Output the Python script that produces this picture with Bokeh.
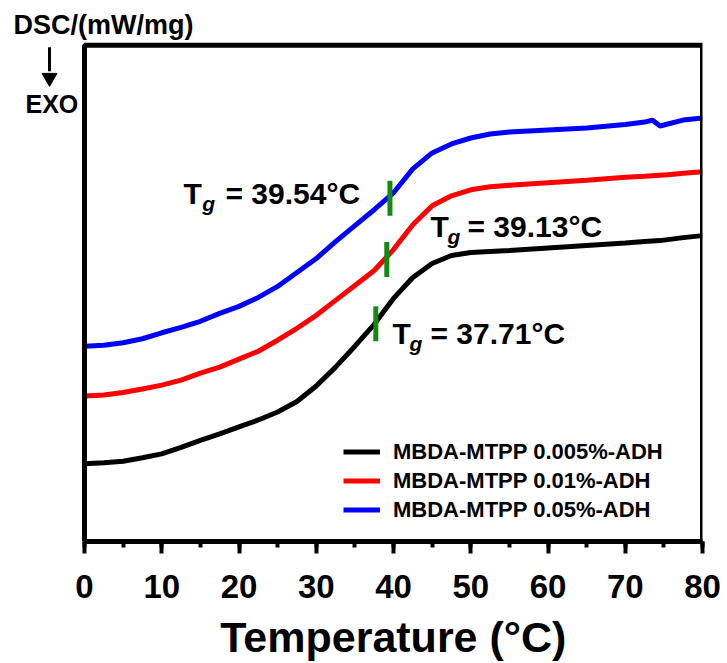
from bokeh.plotting import figure
from bokeh.models import (Range1d, SingleIntervalTicker, Legend, LegendItem, Label,
                          BoxAnnotation)
from bokeh.embed import file_html
from bokeh.resources import INLINE

# ---------------- data (arbitrary heat-flow units) -------------
temps = [0, 2.5, 5, 7.5, 10, 12.5, 15, 17.5, 20, 22.5, 25, 27.5, 30, 32.5, 35, 37.5,
         40, 42.5, 45, 47.5, 50, 52.5, 55, 60, 65, 70, 72.5, 73.5, 74.5, 75.5, 77.5, 80]
dsc_0005 = [0.78, 0.79, 0.805, 0.84, 0.88, 0.945, 1.015, 1.08, 1.15, 1.22, 1.30, 1.405,
            1.56, 1.75, 1.96, 2.18, 2.44, 2.65, 2.79, 2.87, 2.90, 2.91, 2.92, 2.945,
            2.97, 2.995, 3.01, 3.015, 3.02, 3.03, 3.05, 3.07]
dsc_001 = [1.46, 1.47, 1.495, 1.53, 1.57, 1.62, 1.69, 1.75, 1.83, 1.91, 2.02, 2.14,
           2.27, 2.42, 2.57, 2.72, 2.93, 3.18, 3.37, 3.47, 3.53, 3.56, 3.575, 3.60,
           3.625, 3.655, 3.665, 3.67, 3.675, 3.68, 3.695, 3.71]
dsc_005 = [1.96, 1.97, 1.995, 2.035, 2.095, 2.15, 2.21, 2.29, 2.36, 2.45, 2.56, 2.70,
           2.84, 3.01, 3.17, 3.33, 3.50, 3.74, 3.90, 3.99, 4.05, 4.09, 4.11, 4.13,
           4.15, 4.185, 4.21, 4.23, 4.17, 4.19, 4.23, 4.25]
series_names = ["MBDA-MTPP 0.005%-ADH", "MBDA-MTPP 0.01%-ADH", "MBDA-MTPP 0.05%-ADH"]
series_colors = ["#000000", "#ff0000", "#0000ff"]

tg_values = [37.71, 39.13, 39.54]          # glass transition temperatures
tg_signal = [2.185, 2.83, 3.445]           # curve level at Tg
tg_half = 0.175

X_MIN, X_MAX = 0, 80
Y_MIN, Y_MAX = 0, 4.98

FONT = "Liberation Sans"
W, H = 727, 663
FRAME_L, FRAME_R, FRAME_T, FRAME_B = 84, 702, 45, 543
px_per_x = (FRAME_R - FRAME_L) / (X_MAX - X_MIN)
px_per_y = (FRAME_B - FRAME_T) / (Y_MAX - Y_MIN)

# the plotting frame is widened to the canvas top/left so that the
# "DSC" / "EXO" texts and the arrow can live inside it; the visible box is drawn
# as an annotation over the real data extent
p = figure(width=W, height=H, output_backend="svg", toolbar_location=None,
           x_range=Range1d(X_MIN - FRAME_L / px_per_x, X_MAX),
           y_range=Range1d(Y_MIN, Y_MAX + FRAME_T / px_per_y),
           y_axis_location=None, min_border=0,
           min_border_left=0, min_border_right=W - FRAME_R, min_border_top=0,
           min_border_bottom=H - FRAME_B)
p.background_fill_color = "white"
p.border_fill_color = "white"
p.grid.visible = False
p.outline_line_color = None

xa = p.xaxis[0]
xa.bounds = (X_MIN, X_MAX)
xa.ticker = SingleIntervalTicker(interval=10, num_minor_ticks=2)
xa.axis_line_width = 5
xa.axis_line_color = "black"
xa.major_tick_in = 0
xa.major_tick_out = 12
xa.major_tick_line_width = 4
xa.minor_tick_in = 0
xa.minor_tick_out = 6
xa.minor_tick_line_width = 4
xa.major_label_text_font = FONT
xa.major_label_text_font_style = "bold"
xa.major_label_text_font_size = "33px"
xa.major_label_text_color = "black"
xa.major_label_standoff = 21
# leading no-break spaces re-centre the title under the 0-80 axis (the frame is wider)
xa.axis_label = "\u00a0" * 7 + "Temperature (°C)"
xa.axis_label_text_font = FONT
xa.axis_label_text_font_style = "bold"
xa.axis_label_text_font_size = "43px"
xa.axis_label_text_color = "black"
xa.axis_label_standoff = 12

p.add_layout(BoxAnnotation(left=X_MIN, right=X_MAX, bottom=Y_MIN, top=Y_MAX,
                           fill_alpha=0, line_color="black", line_alpha=1,
                           line_width=5))

renderers = []
for ys, c in zip([dsc_0005, dsc_001, dsc_005], series_colors):
    r = p.line(temps, ys, line_color=c, line_width=5)
    renderers.append(r)

# Tg marks
p.segment(x0=tg_values, y0=[s - tg_half for s in tg_signal],
          x1=tg_values, y1=[s + tg_half for s in tg_signal],
          line_color="#138a13", line_width=5)

# Tg annotations: (T x, baseline y, g x, g baseline, rest x)
tg_pos = {39.54: (12.82, 3.49, 15.25, 3.39, 18.25),
          39.13: (44.79, 3.16, 46.99, 3.06, 49.58),
          37.71: (39.87, 2.09, 42.07, 1.99, 44.79)}
for tg in tg_values:
    tx, ty, gx, gy, rx = tg_pos[tg]
    common = dict(text_font=FONT, text_color="black", text_baseline="alphabetic")
    p.add_layout(Label(x=tx, y=ty, text="T", text_font_size="30px",
                       text_font_style="bold", **common))
    p.add_layout(Label(x=gx, y=gy, text="g", text_font_size="21px",
                       text_font_style="bold italic", **common))
    p.add_layout(Label(x=rx, y=ty, text=f"= {tg:.2f}°C", text_font_size="30px",
                       text_font_style="bold", **common))

# DSC label, arrow, EXO (top-left, outside the data box)
p.add_layout(Label(x=-9.19, y=5.18, text="DSC/(mW/mg)", text_font=FONT,
                   text_font_style="bold", text_font_size="27px",
                   text_baseline="alphabetic", text_color="black"))
p.add_layout(Label(x=-7.64, y=4.39, text="EXO", text_font=FONT,
                   text_font_style="bold", text_font_size="25px",
                   text_baseline="alphabetic", text_color="black"))
p.segment(x0=[-4.53], y0=[4.96], x1=[-4.53], y1=[4.72], line_color="black",
          line_width=3)
p.scatter(x=[-4.53], y=[4.655], marker="inverted_triangle", size=15,
          fill_color="black", line_color="black")

legend = Legend(items=[LegendItem(label=n, renderers=[r])
                       for n, r in zip(series_names, renderers)],
                location=(FRAME_L + 259, 17), border_line_color=None,
                background_fill_alpha=0,
                label_text_font=FONT, label_text_font_style="bold",
                label_text_font_size="22px", label_text_color="black",
                glyph_width=37, glyph_height=29, label_height=29, spacing=0,
                padding=0, margin=0, label_standoff=13)
p.add_layout(legend)

open("out.html", "w").write(file_html(p, INLINE))
